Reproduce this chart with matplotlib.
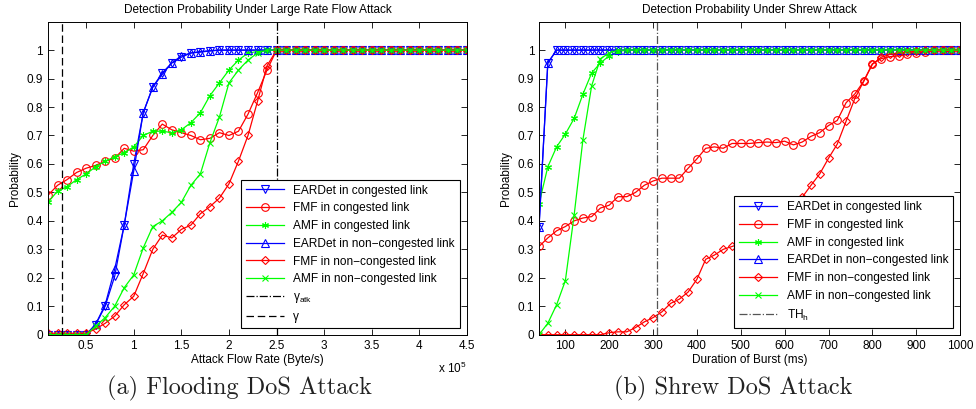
import numpy as np
import matplotlib
matplotlib.use("Agg")
import matplotlib.pyplot as plt
from matplotlib.ticker import FuncFormatter

plt.rcParams['font.family'] = ['Liberation Sans', 'DejaVu Sans']
plt.rcParams['mathtext.fontset'] = 'custom'
plt.rcParams['mathtext.rm'] = 'Liberation Sans'
plt.rcParams['font.size'] = 8.5

# ---- (a) flooding attack, x in Byte/s ----
rate = np.arange(1, 46) * 1e4

eardet_cong_a = [0, 0, 0, 0, 0, 0.035, 0.10, 0.205, 0.385, 0.60,
                 0.78, 0.87, 0.92, 0.955, 0.975, 0.99, 0.993, 0.997, 1.0, 1.0] + [1.0] * 25
eardet_non_a = [0, 0, 0, 0, 0, 0.037, 0.105, 0.23, 0.385, 0.575,
                0.78, 0.87, 0.915, 0.955, 0.98, 0.99, 0.995, 0.998, 1.0, 1.0] + [1.0] * 25
fmf_cong_a = [0.49, 0.525, 0.545, 0.57, 0.585, 0.595, 0.61, 0.62, 0.655, 0.645,
              0.65, 0.70, 0.74, 0.72, 0.71, 0.70, 0.685, 0.69, 0.71, 0.70,
              0.715, 0.775, 0.85, 0.93, 1.0] + [1.0] * 20
fmf_non_a = [0.005, 0.005, 0.005, 0.005, 0.005, 0.02, 0.04, 0.065, 0.105, 0.135,
             0.215, 0.30, 0.35, 0.34, 0.37, 0.385, 0.425, 0.45, 0.48, 0.53,
             0.61, 0.70, 0.82, 0.945, 1.0] + [1.0] * 20
amf_cong_a = [0.465, 0.505, 0.52, 0.545, 0.565, 0.59, 0.61, 0.625, 0.64, 0.66,
              0.70, 0.715, 0.715, 0.71, 0.72, 0.745, 0.78, 0.84, 0.885, 0.93,
              0.965, 0.99, 0.995, 1.0] + [1.0] * 21
amf_non_a = [0, 0, 0, 0, 0, 0.03, 0.06, 0.10, 0.165, 0.21,
             0.305, 0.38, 0.40, 0.43, 0.465, 0.525, 0.565, 0.675, 0.765, 0.885,
             0.93, 0.965, 0.99, 1.0] + [1.0] * 21
gamma_atk = 2.5e5
gamma = 0.25e5

# ---- (b) shrew attack, x in ms ----
burst = np.arange(40, 1001, 20)

eardet_cong_b = [0.38, 0.955] + [1.0] * 47
eardet_non_b = [0.38, 0.955] + [1.0] * 47
fmf_cong_b = [0.31, 0.34, 0.365, 0.38, 0.40, 0.41, 0.415, 0.445, 0.455, 0.485,
              0.485, 0.50, 0.525, 0.54, 0.55, 0.55, 0.55, 0.585, 0.618, 0.655,
              0.66, 0.655, 0.672, 0.672, 0.672, 0.675, 0.677, 0.675, 0.68, 0.667,
              0.677, 0.697, 0.71, 0.735, 0.753, 0.815, 0.846, 0.89, 0.952, 0.97,
              0.977, 0.98, 0.985, 0.99, 0.993, 1.0, 1.0, 1.0, 1.0]
fmf_non_b = [0, 0, 0, 0, 0, 0, 0, 0, 0.007, 0.01,
             0.01, 0.025, 0.045, 0.06, 0.08, 0.11, 0.125, 0.15, 0.195, 0.265,
             0.28, 0.30, 0.31, 0.32, 0.335, 0.35, 0.37, 0.39, 0.41, 0.44,
             0.483, 0.525, 0.565, 0.62, 0.67, 0.75, 0.83, 0.89, 0.95, 0.975,
             0.985, 0.99, 0.993, 0.996, 1.0, 1.0, 1.0, 1.0, 1.0]
amf_cong_b = [0.46, 0.59, 0.66, 0.705, 0.76, 0.845, 0.92, 0.955, 0.98, 0.995] + [1.0] * 39
amf_non_b = [0.0, 0.04, 0.105, 0.19, 0.42, 0.685, 0.875, 0.97, 0.99, 1.0] + [1.0] * 39
th_h = 310

labels = ["EARDet in congested link", "FMF in congested link", "AMF in congested link",
          "EARDet in non\u2212congested link", "FMF in non\u2212congested link",
          "AMF in non\u2212congested link"]
green = '#00ff00'
styles = [('b', 'v'), ('r', 'o'), (green, (6, 2, 0)), ('b', '^'), ('r', 'D'), (green, 'x')]
msizes = [5.5, 5.5, 5, 5.5, 4.2, 4]


def draw(ax, x, series):
    for y, (c, m), ms, lab in zip(series, styles, msizes, labels):
        ax.plot(x, y, color=c, marker=m, ms=ms, mfc='none', mec=c, lw=0.9, mew=0.8, label=lab)


def dress(ax):
    ax.set_ylim(0, 1.1)
    ax.set_yticks(np.arange(0, 1.01, 0.1))
    ax.set_yticklabels(["0", "0.1", "0.2", "0.3", "0.4", "0.5", "0.6", "0.7", "0.8", "0.9", "1"])
    ax.tick_params(direction='in', top=True, right=True, length=4, width=0.6, labelsize=8.5)
    for s in ax.spines.values():
        s.set_linewidth(0.7)
    ax.set_ylabel("Probability", fontsize=8.5)


def add_legend(ax):
    leg = ax.legend(loc='lower right', fontsize=8.6, fancybox=False, edgecolor='k',
                    handlelength=3.2, labelspacing=0.48, borderaxespad=0.6, framealpha=1)
    leg.get_frame().set_linewidth(0.8)


fig = plt.figure(figsize=(9.76, 4.09), dpi=100)
ax1 = fig.add_axes([0.0492, 0.1817, 0.4293, 0.7653])
ax2 = fig.add_axes([0.5523, 0.1817, 0.4314, 0.7653])

draw(ax1, rate, [eardet_cong_a, fmf_cong_a, amf_cong_a, eardet_non_a, fmf_non_a, amf_non_a])
ax1.axvline(gamma_atk, color='k', ls='-.', lw=0.9, label="\u03b3$_{\\mathrm{atk}}$")
ax1.axvline(gamma, color='k', ls='--', lw=0.9, dashes=(6, 3), label="\u03b3")
ax1.set_xlim(1e4, 4.5e5)
ax1.set_xticks(np.arange(0.5, 4.51, 0.5) * 1e5)
ax1.xaxis.set_major_formatter(FuncFormatter(lambda v, p: f"{v / 1e5:g}"))
dress(ax1)
ax1.set_xlabel("Attack Flow Rate (Byte/s)", fontsize=8.5, labelpad=2)
ax1.set_title("Detection Probability Under Large Rate Flow Attack", fontsize=8.5, pad=6)
ax1.text(0.93, -0.085, "x 10$^{5}$", transform=ax1.transAxes, fontsize=8.5, va='top', ha='left')
add_legend(ax1)

draw(ax2, burst, [eardet_cong_b, fmf_cong_b, amf_cong_b, eardet_non_b, fmf_non_b, amf_non_b])
ax2.axvline(th_h, color='#555555', ls='-.', lw=0.9, label="TH$_{\\mathrm{h}}$")
ax2.set_xlim(40, 1000)
ax2.set_xticks(np.arange(100, 1001, 100))
dress(ax2)
ax2.set_xlabel("Duration of Burst (ms)", fontsize=8.5, labelpad=2)
ax2.set_title("Detection Probability Under Shrew Attack", fontsize=8.5, pad=6)
add_legend(ax2)

fig.text(0.245, 0.051, "(a) Flooding DoS Attack", family='cmr10', fontsize=17.5,
         ha='center', va='center', color='#222222')
fig.text(0.751, 0.051, "(b) Shrew DoS Attack", family='cmr10', fontsize=17.5,
         ha='center', va='center', color='#222222')

fig.savefig("out.png", dpi=100)
